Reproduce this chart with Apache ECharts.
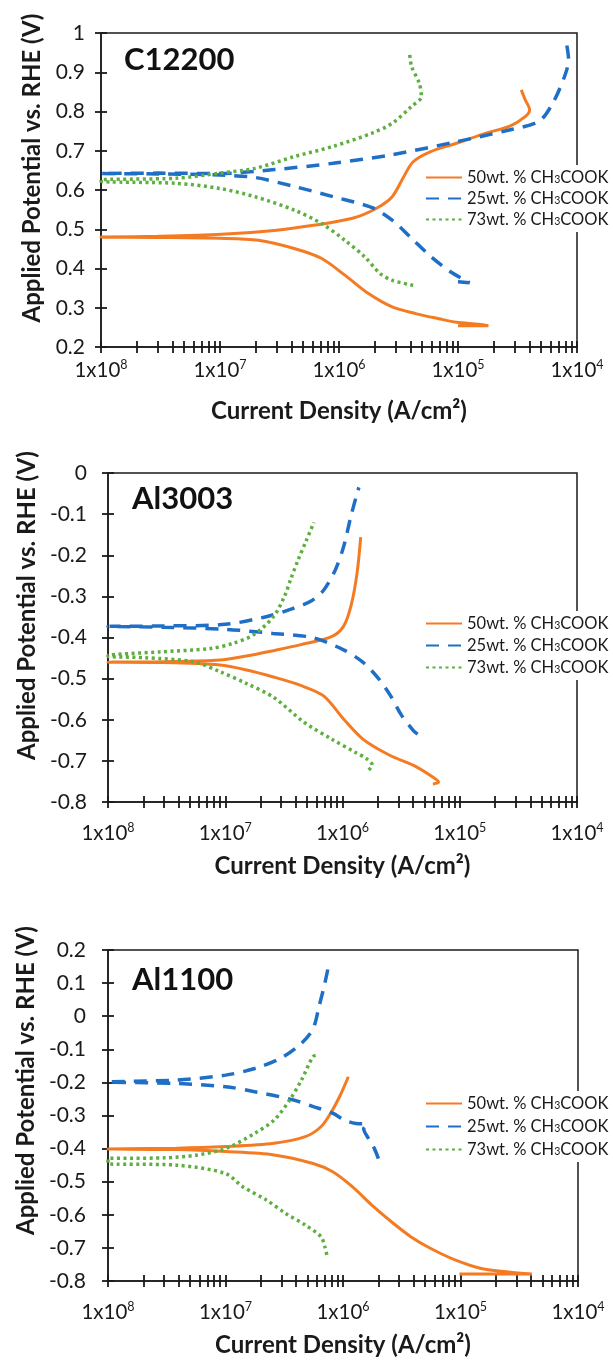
<!DOCTYPE html>
<html><head><meta charset="utf-8">
<script src="https://cdn.jsdelivr.net/npm/echarts@6/dist/echarts.min.js"></script>
<style>html,body{margin:0;padding:0;background:#fff}#c{width:613px;height:1360px}</style>
</head><body><div id="c"></div>
<script>
// ---------- DATA (current density A/cm2, potential V vs RHE) ----------
const seriesNames = ['50wt. % CH3COOK', '25wt. % CH3COOK', '73wt. % CH3COOK'];
const panelNames = ['C12200', 'Al3003', 'Al1100'];
const xDecades = [-8, -7, -6, -5, -4];
const xTickExponents = ['8', '7', '6', '5', '4'];

const c12200_50 = [[1.0e-5,0.254],[1.8e-5,0.254],[1.5e-5,0.258],[9.7e-6,0.263],[6.9e-6,0.272],[4.4e-6,0.285],[2.8e-6,0.302],[1.77e-6,0.336],[1.12e-6,0.383],[7.1e-7,0.426],[4.2e-7,0.451],[2.1e-7,0.472],[1.0e-7,0.477],[3e-8,0.479],[1e-8,0.48],[3e-8,0.482],[1.03e-7,0.487],[2.86e-7,0.497],[6.1e-7,0.51],[1.3e-6,0.528],[2.05e-6,0.553],[2.8e-6,0.583],[3.5e-6,0.634],[4.2e-6,0.672],[5.9e-6,0.698],[9.7e-6,0.719],[1.72e-5,0.745],[2.7e-5,0.762],[3.67e-5,0.787],[4.0e-5,0.804],[3.67e-5,0.83],[3.4e-5,0.855]];
const c12200_25 = [[1.0e-5,0.366],[1.25e-5,0.364],[1.15e-5,0.37],[8.7e-6,0.391],[5.94e-6,0.43],[4.07e-6,0.477],[2.8e-6,0.523],[1.9e-6,0.555],[8.9e-7,0.583],[4.2e-7,0.609],[1.96e-7,0.632],[1.0e-7,0.638],[3e-8,0.641],[1e-8,0.642],[3e-8,0.643],[1.0e-7,0.642],[2.86e-7,0.652],[8.9e-7,0.668],[2.8e-6,0.69],[9.7e-6,0.723],[2.7e-5,0.753],[4.79e-5,0.775],[6.25e-5,0.821],[7.85e-5,0.889],[8.5e-5,0.932],[8.15e-5,0.974]];
const c12200_73 = [[4.2e-6,0.357],[2.8e-6,0.37],[2.22e-6,0.387],[1.64e-6,0.43],[1.12e-6,0.472],[7.1e-7,0.515],[4.2e-7,0.549],[1.96e-7,0.583],[9.9e-8,0.604],[4.3e-8,0.617],[1e-8,0.622],[1e-8,0.626],[4.3e-8,0.63],[1.0e-7,0.643],[1.96e-7,0.655],[4.2e-7,0.685],[8.9e-7,0.711],[1.9e-6,0.745],[2.8e-6,0.77],[4.07e-6,0.813],[4.92e-6,0.838],[4.73e-6,0.872],[4.07e-6,0.915],[3.92e-6,0.949]];

const al3003_50 = [[5.9e-6,-0.756],[6.6e-6,-0.752],[5.93e-6,-0.74],[4.04e-6,-0.711],[2.55e-6,-0.687],[1.49e-6,-0.647],[1.02e-6,-0.598],[6.9e-7,-0.542],[4.34e-7,-0.516],[2.57e-7,-0.496],[1.52e-7,-0.479],[9e-8,-0.467],[3e-8,-0.461],[1e-8,-0.46],[3e-8,-0.459],[9e-8,-0.455],[1.52e-7,-0.445],[2.57e-7,-0.432],[4.34e-7,-0.418],[8.07e-7,-0.398],[1.02e-6,-0.373],[1.18e-6,-0.324],[1.33e-6,-0.244],[1.43e-6,-0.156]];
const al3003_25 = [[4.37e-6,-0.635],[4.04e-6,-0.627],[3.2e-6,-0.59],[2.55e-6,-0.54],[2.03e-6,-0.5],[1.49e-6,-0.46],[1.02e-6,-0.43],[5.5e-7,-0.40],[2.55e-7,-0.39],[1.0e-7,-0.38],[3e-8,-0.375],[1e-8,-0.373],[3e-8,-0.372],[1.0e-7,-0.368],[2.19e-7,-0.35],[3.74e-7,-0.33],[5.5e-7,-0.31],[6.9e-7,-0.285],[8.7e-7,-0.235],[1.02e-6,-0.18],[1.18e-6,-0.105],[1.33e-6,-0.05],[1.38e-6,-0.035]];
const al3003_73 = [[1.67e-6,-0.722],[1.8e-6,-0.711],[1.61e-6,-0.695],[1.28e-6,-0.679],[8.07e-7,-0.647],[4.7e-7,-0.606],[2.57e-7,-0.545],[1.52e-7,-0.512],[9e-8,-0.483],[5.4e-8,-0.459],[2e-8,-0.449],[1e-8,-0.446],[1e-8,-0.444],[2.77e-8,-0.435],[7.4e-8,-0.427],[1.17e-7,-0.414],[1.73e-7,-0.394],[2.57e-7,-0.35],[3.2e-7,-0.3],[3.6e-7,-0.26],[4.2e-7,-0.21],[4.9e-7,-0.165],[5.7e-7,-0.12]];

const al1100_50 = [[9.8e-6,-0.779],[4.05e-5,-0.779],[2.56e-5,-0.773],[1.5e-5,-0.762],[9.1e-6,-0.737],[5.53e-6,-0.701],[3.77e-6,-0.666],[2.58e-6,-0.621],[1.75e-6,-0.57],[1.2e-6,-0.515],[8.17e-7,-0.47],[5.57e-7,-0.445],[2.59e-7,-0.419],[1e-7,-0.409],[3.82e-8,-0.403],[1e-8,-0.401],[3.82e-8,-0.399],[1e-7,-0.394],[2.59e-7,-0.384],[4.78e-7,-0.364],[6.49e-7,-0.334],[7.85e-7,-0.293],[9.5e-7,-0.238],[1.11e-6,-0.183]];
const al1100_25 = [[2e-6,-0.43],[1.85e-6,-0.40],[1.65e-6,-0.37],[1.5e-6,-0.34],[1.6e-6,-0.326],[1.29e-6,-0.324],[1.03e-6,-0.314],[8.17e-7,-0.293],[5.57e-7,-0.273],[3.79e-7,-0.253],[1.77e-7,-0.228],[1e-7,-0.213],[3.82e-8,-0.203],[1e-8,-0.199],[3.82e-8,-0.193],[1e-7,-0.178],[1.77e-7,-0.158],[3.02e-7,-0.125],[4.43e-7,-0.082],[5.57e-7,-0.037],[6.25e-7,0.029],[7.0e-7,0.099],[7.56e-7,0.155]];
const al1100_73 = [[7.28e-7,-0.721],[7.0e-7,-0.696],[6.49e-7,-0.666],[4.78e-7,-0.631],[3.26e-7,-0.596],[2.22e-7,-0.555],[1.4e-7,-0.515],[1e-7,-0.475],[3.82e-8,-0.45],[1e-8,-0.445],[1e-8,-0.43],[3e-8,-0.428],[5.6e-8,-0.42],[1e-7,-0.40],[1.77e-7,-0.354],[2.59e-7,-0.314],[3.52e-7,-0.253],[4.43e-7,-0.193],[5.57e-7,-0.122],[6.25e-7,-0.117]];

// ---------- LAYOUT ----------
const panels = [
  {grid:{left:101, top:33, width:476, height:314}, ymin:0.2, ymax:1, data:[c12200_50,c12200_25,c12200_73], legendTop:165, legendGap:4, titleTop:44, titleLeft:124, namePad:44, xMargin:11, yMargin:16},
  {grid:{left:108, top:473, width:469, height:329}, ymin:-0.8, ymax:0, data:[al3003_50,al3003_25,al3003_73], legendTop:611, legendGap:5, titleTop:483, titleLeft:132, namePad:64, xMargin:19, yMargin:21},
  {grid:{left:108, top:950, width:470, height:331}, ymin:-0.8, ymax:0.2, data:[al1100_50,al1100_25,al1100_73], legendTop:1091, legendGap:6, titleTop:964, titleLeft:132, namePad:70, xMargin:19, yMargin:22}
];
const styles = [
  {color:'#F47B22', type:'solid', width:3},
  {color:'#1F6FC6', type:[13,9], width:3.5},
  {color:'#5DB03F', type:[3,3.5], width:3.5}
];
const ink = '#1a1a1a';
const font = 'Lato';

// tick positions on the log-decade axis (1..9 within each decade)
const minorPositions = [];
xDecades.forEach((d, i) => {
  if (i < xDecades.length - 1) for (let k = 1; k <= 9; k++) minorPositions.push(Math.round((d + Math.log10(k)) * 1e6) / 1e6);
  else minorPositions.push(d);
});

const grids = [], xAxes = [], yAxes = [], series = [], legends = [], titles = [];
panels.forEach((p, pi) => {
  grids.push(Object.assign({show:true, borderColor:ink, borderWidth:1.5}, p.grid));
  const xBase = {type:'value', gridIndex:pi, min:-8, max:-4, interval:1, position:'bottom', offset:0, splitLine:{show:false}};
  xAxes.push(Object.assign({}, xBase, {
    axisLine:{onZero:false, lineStyle:{color:ink, width:1.5}},
    axisTick:{show:true, length:6, customValues:minorPositions, lineStyle:{color:ink, width:1.8}},
    axisLabel:{margin:p.xMargin, formatter:v => '{b|1x10}{s|' + xTickExponents[xDecades.indexOf(Math.round(v))] + '}',
      rich:{b:{fontFamily:font, fontSize:20.5, color:ink, lineHeight:24}, s:{fontFamily:font, fontSize:12.5, color:ink, verticalAlign:'top', lineHeight:14}}},
    name:'Current Density (A/cm²)', nameLocation:'middle', nameGap:52,
    nameTextStyle:{fontFamily:font, fontWeight:'bold', fontSize:24, color:ink}
  }));
  xAxes.push(Object.assign({}, xBase, {
    axisLine:{show:false, onZero:false}, axisLabel:{show:false},
    axisTick:{show:true, inside:true, length:6, customValues:minorPositions, lineStyle:{color:ink, width:1.8}}
  }));
  const yBase = {type:'value', gridIndex:pi, min:p.ymin, max:p.ymax, interval:0.1, position:'left', offset:0, splitLine:{show:false}};
  yAxes.push(Object.assign({}, yBase, {
    axisLine:{onZero:false, lineStyle:{color:ink, width:1.5}},
    axisTick:{show:true, length:6, lineStyle:{color:ink, width:1.8}},
    axisLabel:{fontFamily:font, fontSize:21, color:ink, margin:p.yMargin},
    name:'Applied Potential vs. RHE (V)', nameLocation:'middle', nameGap:57,
    nameTextStyle:{fontFamily:font, fontWeight:'bold', fontSize:24, color:ink, padding:[0,0,0,p.namePad]}
  }));
  yAxes.push(Object.assign({}, yBase, {
    axisLine:{show:false, onZero:false}, axisLabel:{show:false},
    axisTick:{show:true, inside:true, length:6, lineStyle:{color:ink, width:1.8}}
  }));
  p.data.forEach((d, si) => {
    series.push({
      type:'line', name:seriesNames[si], xAxisIndex:pi*2, yAxisIndex:pi*2,
      data:d.map(pt => [Math.log10(pt[0]), pt[1]]),
      symbol:'none', smooth:0.3, clip:true, animation:false,
      lineStyle:{color:styles[si].color, type:styles[si].type, width:styles[si].width, cap:'butt'},
      itemStyle:{color:styles[si].color}
    });
  });
  legends.push({
    data:seriesNames, orient:'vertical', left:424, top:p.legendTop,
    itemWidth:36, itemHeight:14, itemGap:p.legendGap, padding:[4,3,4,1],
    backgroundColor:'#fff', selectedMode:false,
    itemStyle:{opacity:0, color:'rgba(0,0,0,0)', borderColor:'rgba(0,0,0,0)', borderWidth:0},
    formatter:n => { const m = n.split('CH3'); return '{a|' + m[0] + 'CH}{s|3}{a|' + m[1] + '}'; },
    textStyle:{rich:{a:{fontFamily:font, fontSize:16.5, color:ink, lineHeight:16}, s:{fontFamily:font, fontSize:10.5, color:ink, lineHeight:10, verticalAlign:'bottom'}}}
  });
  titles.push({text:panelNames[pi], left:p.titleLeft, top:p.titleTop, padding:0,
    textStyle:{fontFamily:font, fontWeight:'bold', fontSize:31, color:'#111'}});
});

const chart = echarts.init(document.getElementById('c'), null, {renderer:'canvas'});
chart.setOption({
  animation:false, backgroundColor:'#fff',
  title:titles, grid:grids, xAxis:xAxes, yAxis:yAxes, legend:legends, series:series
});
</script></body></html>
